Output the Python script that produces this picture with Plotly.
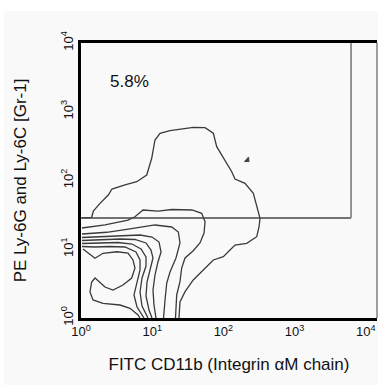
import numpy as np
import plotly.graph_objects as go

# ---- data (log10 decades) ----
tick_vals = [1, 10, 100, 1000, 10000]
tick_text = ["10<sup>0</sup>", "10<sup>1</sup>", "10<sup>2</sup>", "10<sup>3</sup>", "10<sup>4</sup>"]

# contour lines, outer -> inner (log10 FITC, log10 PE)
c1_lx = [0.014, 0.150, 0.173, 0.267, 0.383, 0.435, 0.618, 0.782, 0.923, 0.993, 1.039, 1.110, 1.250, 1.390,
         1.577, 1.742, 1.858, 1.906, 1.999, 2.117, 2.163, 2.303, 2.420, 2.476, 2.514, 2.500, 2.468, 2.327,
         2.163, 2.093, 1.999, 1.858, 1.718, 1.577, 1.461, 1.390, 1.376]
c1_ly = [1.455, 1.465, 1.556, 1.668, 1.789, 1.876, 1.935, 1.983, 2.080, 2.323, 2.589, 2.687, 2.724, 2.745,
         2.774, 2.768, 2.687, 2.492, 2.323, 2.128, 2.022, 1.959, 1.814, 1.619, 1.450, 1.324, 1.183, 1.087,
         1.062, 0.989, 0.892, 0.844, 0.698, 0.553, 0.383, 0.233, 0.0]

c2_lx = [0.014, 0.337, 0.660, 0.758, 0.871, 1.081, 1.278, 1.559, 1.695, 1.742, 1.728, 1.671, 1.573, 1.461,
         1.414, 1.390, 1.344, 1.327]
c2_ly = [1.309, 1.353, 1.425, 1.473, 1.571, 1.556, 1.578, 1.571, 1.523, 1.401, 1.236, 1.091, 0.975, 0.873,
         0.727, 0.528, 0.335, 0.0]

c3_lx = [0.014, 0.361, 0.688, 1.039, 1.274, 1.367, 1.390, 1.334, 1.250, 1.204, 1.180, 1.159]
c3_ly = [1.222, 1.247, 1.295, 1.353, 1.324, 1.251, 1.091, 0.873, 0.669, 0.509, 0.262, 0.0]

c4_lx = [0.014, 0.267, 0.548, 0.829, 0.997, 1.096, 1.124, 1.081, 1.039, 1.011, 1.025, 1.053]
c4_ly = [1.171, 1.183, 1.200, 1.207, 1.178, 1.105, 0.960, 0.815, 0.625, 0.407, 0.189, 0.0]

c5_lx = [0.014, 0.267, 0.548, 0.758, 0.913, 0.983, 1.011, 0.969, 0.927, 0.913, 0.955, 0.997]
c5_ly = [1.127, 1.135, 1.149, 1.142, 1.091, 0.989, 0.873, 0.698, 0.524, 0.320, 0.116, 0.0]

c6_lx = [0.014, 0.267, 0.520, 0.716, 0.843, 0.913, 0.913, 0.857, 0.829, 0.857, 0.941]
c6_ly = [1.084, 1.091, 1.098, 1.076, 1.004, 0.887, 0.756, 0.582, 0.378, 0.175, 0.0]

c7_lx = [0.014, 0.197, 0.407, 0.618, 0.772, 0.829, 0.829, 0.787, 0.744, 0.787, 0.885]
c7_ly = [1.040, 1.033, 1.040, 1.033, 0.960, 0.844, 0.698, 0.524, 0.335, 0.160, 0.0]

c8_lx = [0.028, 0.197, 0.309, 0.506, 0.660, 0.730, 0.758, 0.712, 0.590, 0.449, 0.337, 0.239, 0.197, 0.150,
         0.126, 0.169, 0.309, 0.548, 0.688, 0.801, 0.829]
c8_ly = [1.004, 0.868, 0.941, 0.964, 0.945, 0.844, 0.727, 0.582, 0.480, 0.407, 0.451, 0.553, 0.582, 0.524,
         0.378, 0.262, 0.214, 0.189, 0.141, 0.044, 0.0]

speck_lx = [2.296, 2.353, 2.360, 2.296]
speck_ly = [2.276, 2.342, 2.276, 2.276]

# gate: lower-left corner to upper-right corner (FITC, PE)
gate_x = [1, 6200]
gate_y = [28.5, 10000]
gate_label = "5.8%"
gate_label_pos = (0.379, 3.433)  # log10 position of the label

contours = [(c1_lx, c1_ly), (c2_lx, c2_ly), (c3_lx, c3_ly), (c4_lx, c4_ly),
            (c5_lx, c5_ly), (c6_lx, c6_ly), (c7_lx, c7_ly), (c8_lx, c8_ly)]

FONT = "Arial, 'Liberation Sans', sans-serif"

fig = go.Figure()

for lx, ly in contours:
    fig.add_trace(go.Scatter(x=10 ** np.array(lx), y=10 ** np.array(ly), mode="lines",
                             line=dict(color="#3a3a3a", width=1.3),
                             hoverinfo="skip", showlegend=False))

fig.add_trace(go.Scatter(x=10 ** np.array(speck_lx), y=10 ** np.array(speck_ly), mode="lines",
                         fill="toself", fillcolor="#444", line=dict(color="#444", width=1),
                         hoverinfo="skip", showlegend=False))

# gate (bottom edge and right edge visible)
fig.add_trace(go.Scatter(x=[gate_x[0], gate_x[1]], y=[gate_y[0], gate_y[0]],
                         mode="lines", line=dict(color="#444", width=1.6),
                         hoverinfo="skip", showlegend=False))
fig.add_trace(go.Scatter(x=[gate_x[1], gate_x[1]], y=[gate_y[0], gate_y[1]],
                         mode="lines", line=dict(color="#888", width=1.8),
                         hoverinfo="skip", showlegend=False))

fig.add_annotation(x=gate_label_pos[0], y=gate_label_pos[1], xref="x", yref="y", text=gate_label,
                   showarrow=False, xanchor="left", yanchor="middle",
                   font=dict(family=FONT, size=17, color="#111"))

# light panel background and thin right border
fig.add_shape(type="rect", xref="paper", yref="paper", x0=-0.26, x1=1.1, y0=-0.3, y1=1.1164,
              fillcolor="#f9f9f9", line=dict(width=0), layer="below")
fig.add_shape(type="line", xref="paper", yref="paper", x0=1, x1=1, y0=0, y1=1,
              line=dict(color="#444", width=1))

fig.update_layout(
    width=378, height=385,
    margin=dict(l=81, r=1, t=43, b=67, autoexpand=False),
    paper_bgcolor="white", plot_bgcolor="#f9f9f9",
    font=dict(family=FONT, color="#111"),
    showlegend=False,
)
fig.update_xaxes(type="log", range=[0, 4.157], tickvals=tick_vals, ticktext=tick_text,
                 showgrid=False, zeroline=False, ticks="", automargin=False,
                 showline=True, linecolor="black", linewidth=2.5, mirror=True,
                 tickfont=dict(size=13, family=FONT, color="#111"),
                 title=dict(text="FITC CD11b (Integrin αM chain)", font=dict(size=17, family=FONT, color="#111"),
                            standoff=20))
fig.update_yaxes(type="log", range=[0, 4], tickvals=tick_vals, ticktext=tick_text,
                 showgrid=False, zeroline=False, ticks="", tickangle=-90, automargin=False,
                 showline=True, linecolor="black", linewidth=3,
                 tickfont=dict(size=13, family=FONT, color="#111"),
                 title=dict(text="PE Ly-6G and Ly-6C [Gr-1]", font=dict(size=17, family=FONT, color="#111"),
                            standoff=29))

fig.write_html("out.html", config={"displayModeBar": False},
               post_script="document.body.style.margin='0';document.body.style.overflow='hidden';")
